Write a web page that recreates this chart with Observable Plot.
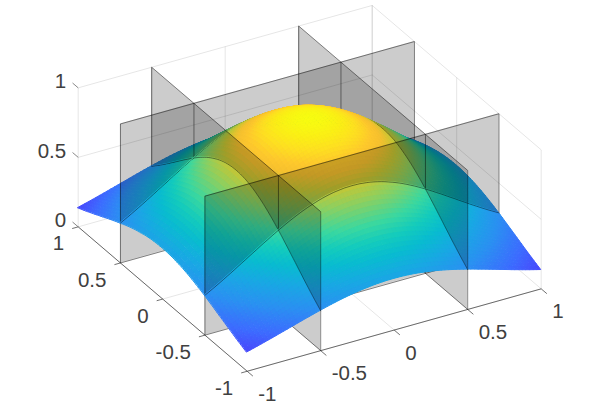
<!DOCTYPE html>
<html><head><meta charset="utf-8">
<style>html,body{margin:0;padding:0;background:#fff}svg{display:block}</style>
<script src="https://cdn.jsdelivr.net/npm/d3@7"></script>
<script src="https://cdn.jsdelivr.net/npm/@observablehq/plot@0.6"></script>
</head><body><div id="chart"></div>
<script>
// Data: tick values, surface cross-section, colour stops
const ticksXY = [-1, -0.5, 0, 0.5, 1];
const ticksZ = [0, 0.5, 1];
const profile = [0.368,0.387,0.406,0.425,0.445,0.465,0.486,0.506,0.527,0.549,0.570,0.591,0.613,0.634,0.655,0.677,0.698,0.718,0.739,0.759,0.779,
  0.798,0.817,0.835,0.852,0.869,0.885,0.900,0.914,0.927,0.939,0.951,0.961,0.970,0.978,0.985,0.990,0.994,0.998,0.999,1,
  0.999,0.998,0.994,0.990,0.985,0.978,0.970,0.961,0.951,0.939,0.927,0.914,0.900,0.885,0.869,0.852,0.835,0.817,0.798,0.779,
  0.759,0.739,0.718,0.698,0.677,0.655,0.634,0.613,0.591,0.570,0.549,0.527,0.506,0.486,0.465,0.445,0.425,0.406,0.387,0.368];
const zStops = [0.135,0.2,0.29,0.38,0.46,0.53,0.6,0.7,0.78,0.84,0.88,0.93,0.97,1];
const colorStops = ["#4848fc","#3c6cff","#2a90f2","#18a8e4","#08bcd0","#14ccbc","#3ad8a0","#8cd060","#c8c632","#f6c02e","#fec82c","#fee020","#fbf014","#f8fc10"];

const N = profile.length - 1;
const g = k => 2*k/N - 1;

// Orthographic view of the box
const view = {ox:309.2, oy:257.35, xx:147, xy:-41.2, yx:-84.5, yy:-72.2, zy:-139};
const px = (x,y) => view.ox + view.xx*x + view.yx*y;
const py = (x,y,z) => view.oy + view.xy*x + view.yy*y + view.zy*z;
const P = (x,y,z) => [px(x,y), py(x,y,z)];
const surf = (i,j) => profile[i]*profile[j];

// Helper: quads to rows for Plot.area
let qid = 0;
function quadRows(a,b,c,d,extra={}) {
  const q = qid++;
  return [{q,x1:a[0],y1:a[1],x2:d[0],y2:d[1],...extra},{q,x1:b[0],y1:b[1],x2:c[0],y2:c[1],...extra}];
}
function cellRows(i,j) {
  const zc = (surf(i,j)+surf(i+1,j)+surf(i,j+1)+surf(i+1,j+1))/4;
  return quadRows(P(g(i),g(j),surf(i,j)),P(g(i+1),g(j),surf(i+1,j)),P(g(i+1),g(j+1),surf(i+1,j+1)),P(g(i),g(j+1),surf(i,j+1)),{v:zc});
}
const surfaceMark = rows => Plot.area(rows,{x1:"x1",y1:"y1",x2:"x2",y2:"y2",z:"q",fill:"v",stroke:"v",strokeWidth:1,strokeLinejoin:"round"});
const wallMark = rows => Plot.area(rows,{x1:"x1",y1:"y1",x2:"x2",y2:"y2",z:"q",fill:"#000",fillOpacity:0.2});
const edgeMark = segs => Plot.link(segs,{x1:"x1",y1:"y1",x2:"x2",y2:"y2",stroke:"#000",strokeOpacity:0.65,strokeWidth:0.7});
const curveMark = pts => Plot.line(pts,{x:d=>d[0],y:d=>d[1],stroke:"#000",strokeOpacity:0.75,strokeWidth:0.6});

// Box lines
const seg = (a,b) => { const p=P(...a), r=P(...b); return {x1:p[0],y1:p[1],x2:r[0],y2:r[1]}; };
const gridSegs = [], axisSegs = [], tickSegs = [], lightTicks = [];
for (const v of ticksXY) {
  gridSegs.push(seg([v,-1,0],[v,1,0]), seg([-1,v,0],[1,v,0]), seg([v,1,0],[v,1,1]), seg([1,v,0],[1,v,1]));
  tickSegs.push(seg([v,-1,0],[v,-1.067,0]), seg([-1,v,0],[-1.041,v,0]));
}
for (const z of ticksZ) {
  if (z>0) gridSegs.push(seg([-1,1,z],[1,1,z]), seg([1,-1,z],[1,1,z]));
  lightTicks.push(seg([-1,1,z],[-1,1.067,z]));
}
axisSegs.push(seg([-1,-1,0],[1,-1,0]), seg([-1,-1,0],[-1,1,0]));

const marks = [
  Plot.link(gridSegs,{x1:"x1",y1:"y1",x2:"x2",y2:"y2",stroke:"#000",strokeOpacity:0.13,strokeWidth:0.8}),
  Plot.link(axisSegs.concat(tickSegs),{x1:"x1",y1:"y1",x2:"x2",y2:"y2",stroke:"#333",strokeWidth:0.7}),
  Plot.link(lightTicks,{x1:"x1",y1:"y1",x2:"x2",y2:"y2",stroke:"#555",strokeWidth:0.7})
];

// Painter's order: the walls cut the floor into 3x3 columns; draw far columns first
const w1 = N/4, w2 = 3*N/4;
const bands = [[w2,N],[w1,w2],[0,w1]]; // far to near
for (let bj=0; bj<3; bj++) for (let bi=0; bi<3; bi++) {
  const [i0,i1] = bands[bi], [j0,j1] = bands[bj];
  const strip = [], rest = [];
  for (let i=i1-1;i>=i0;i--) for (let j=j1-1;j>=j0;j--) {
    const rows = cellRows(i,j);
    if ((i===i1-1 && i1<N) || (j===j1-1 && j1<N)) strip.push(...rows); else rest.push(...rows);
  }
  if (strip.length) marks.push(surfaceMark(strip));
  // surface curves along the far walls of this column
  if (i1<N) { const c=[]; for (let j=j0;j<=j1;j++) c.push(P(g(i1),g(j),surf(i1,j))); marks.push(curveMark(c)); }
  if (j1<N) { const c=[]; for (let i=i0;i<=i1;i++) c.push(P(g(i),g(j1),surf(i,j1))); marks.push(curveMark(c)); }
  if (rest.length) marks.push(surfaceMark(rest));
  // near walls of this column, with each edge drawn once
  const wallRows = [], edges = [];
  const x0=g(i0), x1=g(i1), y0=g(j0), y1=g(j1);
  if (i0>0) {
    wallRows.push(...quadRows(P(x0,y0,0),P(x0,y1,0),P(x0,y1,1),P(x0,y0,1)));
    edges.push(seg([x0,y0,0],[x0,y1,0]), seg([x0,y0,1],[x0,y1,1]));
    if (j1===N) edges.push(seg([x0,y1,0],[x0,y1,1]));
    edges.push(seg([x0,y0,0],[x0,y0,1]));
  }
  if (j0>0) {
    wallRows.push(...quadRows(P(x0,y0,0),P(x1,y0,0),P(x1,y0,1),P(x0,y0,1)));
    edges.push(seg([x0,y0,0],[x1,y0,0]), seg([x0,y0,1],[x1,y0,1]));
    if (i1===N) edges.push(seg([x1,y0,0],[x1,y0,1]));
    if (i0===0) edges.push(seg([x0,y0,0],[x0,y0,1]));
  }
  if (wallRows.length) marks.push(wallMark(wallRows), edgeMark(edges));
}

// Tick labels
const fmt = v => String(v);
const labelStyle = {fontSize:20.5, fontFamily:"'Liberation Sans',Arial,sans-serif", fill:"#404040", lineAnchor:"middle"};
marks.push(
  Plot.text(ticksZ,{x:()=>px(-1,1),y:z=>py(-1,1,z),text:fmt,textAnchor:"end",dx:-12,dy:-6,...labelStyle}),
  Plot.text(ticksXY,{x:v=>px(-1,v),y:v=>py(-1,v,0),text:fmt,textAnchor:"end",dx:-14,dy:17,...labelStyle}),
  Plot.text(ticksXY,{x:v=>px(v,-1),y:v=>py(v,-1,0),text:fmt,textAnchor:"start",dx:11,dy:23,...labelStyle})
);

const chart = Plot.plot({
  width:598, height:420, margin:0,
  x:{domain:[0,598],range:[0,598],axis:null},
  y:{domain:[0,420],range:[0,420],axis:null},
  color:{type:"linear",domain:zStops,range:colorStops,interpolate:"rgb",clamp:true},
  marks
});
document.getElementById("chart").appendChild(chart);
</script></body></html>
